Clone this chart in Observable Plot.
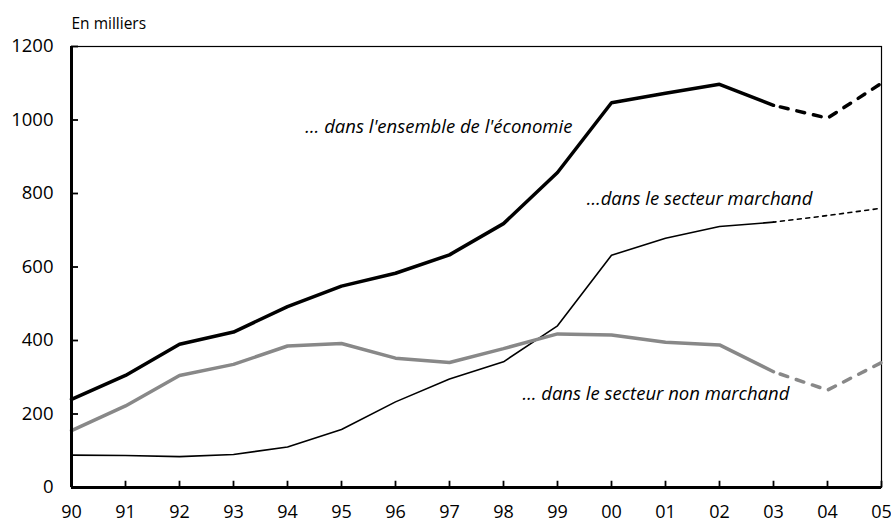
<!DOCTYPE html>
<html><head><meta charset="utf-8">
<script src="https://cdn.jsdelivr.net/npm/d3@7"></script>
<script src="https://cdn.jsdelivr.net/npm/@observablehq/plot@0.6"></script>
<style>body{margin:0;background:#fff}</style>
</head><body><div id="chart"></div>
<script>
const years = [1990,1991,1992,1993,1994,1995,1996,1997,1998,1999,2000,2001,2002,2003,2004,2005];
const yearLabels = ["90","91","92","93","94","95","96","97","98","99","00","01","02","03","04","05"];
const ensemble = [240,305,390,423,492,548,583,633,718,857,1047,1073,1097,1040,1005,1100];
const marchand = [88,87,84,90,110,158,233,295,342,440,632,678,710,722,740,760];
const nonMarchand = [155,222,305,335,385,392,352,340,378,418,415,395,388,315,265,340];
const yTicks = [0,200,400,600,800,1000,1200];
const projectionFrom = 2003;
const unitLabel = "En milliers";
const seriesLabels = [
  {text: "… dans l'ensemble de l'économie", year: 1994.33, value: 982},
  {text: "…dans le secteur marchand", year: 1999.54, value: 786},
  {text: "… dans le secteur non marchand", year: 1998.35, value: 253}
];

const styles = {
  ensemble: {stroke: "black", strokeWidth: 3.5, dash: "8,9"},
  marchand: {stroke: "black", strokeWidth: 1.6, dash: "4,4.5"},
  nonMarchand: {stroke: "#888888", strokeWidth: 3.5, dash: "8,9"}
};
const seriesData = {ensemble, marchand, nonMarchand};

// inner tick lengths expressed in data units (≈6–7 px)
const xTickLen = 17;     // value units
const yTickLen = 0.13;   // year units

const marks = [
  Plot.frame({stroke: "black", strokeWidth: 1.2}),
  Plot.axisY({ticks: yTicks, tickSize: 0, tickPadding: 18, label: null, fontSize: 18.5, tickFormat: d => String(d)}),
  Plot.axisX({ticks: years, tickSize: 0, tickPadding: 18, label: null, fontSize: 18,
    tickFormat: d => yearLabels[years.indexOf(d)]})
];
for (const [key, values] of Object.entries(seriesData)) {
  const rows = years.map((y, i) => ({year: y, value: values[i]}));
  const s = styles[key];
  marks.push(Plot.line(rows.filter(d => d.year <= projectionFrom), {x: "year", y: "value", stroke: s.stroke, strokeWidth: s.strokeWidth, strokeLinejoin: "miter", curve: "linear"}));
  marks.push(Plot.line(rows.filter(d => d.year >= projectionFrom), {x: "year", y: "value", stroke: s.stroke, strokeWidth: s.strokeWidth, strokeDasharray: s.dash, strokeDashoffset: -7}));
}
marks.push(
  Plot.ruleX(years, {x: d => d, y1: 0, y2: xTickLen, stroke: "black", strokeWidth: 1.8}),
  Plot.ruleY(yTicks, {y: d => d, x1: years[0], x2: years[0] + yTickLen, stroke: "black", strokeWidth: 1.8}),
  Plot.ruleX([years[0]], {stroke: "black", strokeWidth: 3}),
  Plot.ruleY([0], {stroke: "black", strokeWidth: 3})
);
marks.push(Plot.text(seriesLabels, {x: "year", y: "value", text: "text", textAnchor: "start", fontStyle: "italic", fontSize: 18.5, fill: "black"}));
marks.push(Plot.text([unitLabel], {frameAnchor: "top-left", dy: -29, textAnchor: "start", fontSize: 15.5, fill: "black"}));

const chart = Plot.plot({
  width: 891, height: 522,
  marginLeft: 71, marginRight: 10, marginTop: 46, marginBottom: 35,
  style: {fontFamily: "'Open Sans', Lato, sans-serif", fontSize: "17px", color: "black", background: "white"},
  x: {domain: [1990, 2005]},
  y: {domain: [0, 1200]},
  marks
});
document.getElementById("chart").appendChild(chart);
</script>
</body></html>
